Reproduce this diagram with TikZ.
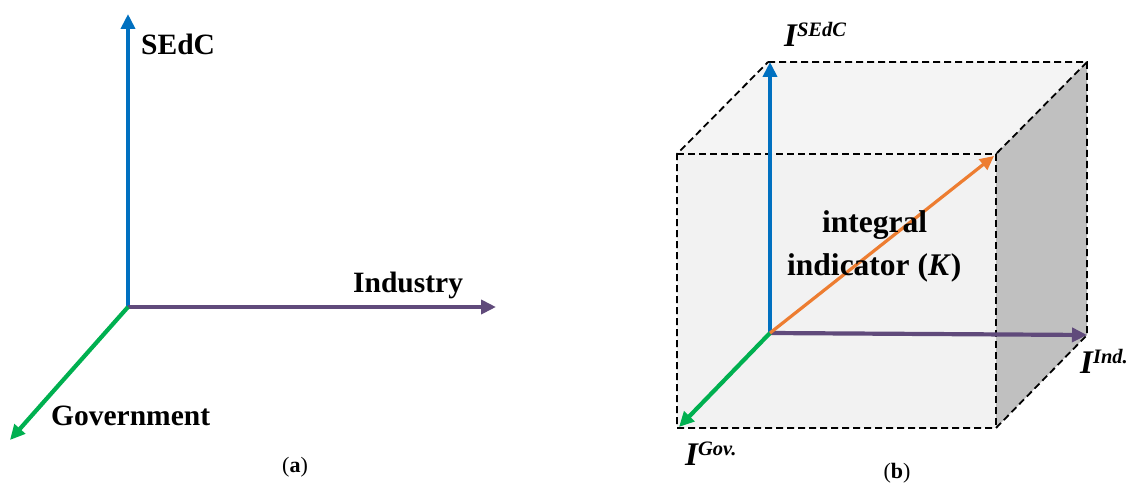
\documentclass[tikz,border=0pt]{standalone}
\usepackage{fontspec}
\setmainfont{Liberation Serif}
\usetikzlibrary{arrows.meta}
\definecolor{cblue}{HTML}{0070C0}
\definecolor{cpurple}{HTML}{604A7B}
\definecolor{cgreen}{HTML}{00B050}
\definecolor{corange}{HTML}{ED7D31}
\definecolor{cfront}{HTML}{F2F2F2}
\definecolor{ctop}{HTML}{F4F4F4}
\definecolor{cside}{HTML}{C0C0C0}
\tikzset{
  axis/.style={line width=4.2pt,-{Triangle[length=15pt,width=14pt]}},
  edge/.style={line width=1.8pt,dash pattern=on 7pt off 4pt},
  lab/.style={inner sep=0pt,anchor=base west,font=\fontsize{29.5}{34}\selectfont\bfseries},
  ilab/.style={inner sep=0pt,anchor=base west,font=\fontsize{33}{36}\selectfont\bfseries\itshape},
  captxt/.style={inner sep=0pt,font=\fontsize{22}{24}\selectfont}
}
\newcommand{\supr}[1]{\raisebox{10pt}{\fontsize{20.5}{22}\selectfont #1}}
\begin{document}
\begin{tikzpicture}[x=1pt,y=-1pt]
\useasboundingbox (0,0) rectangle (1132,484);
% ---------- (a) ----------
\coordinate (oa) at (128,307);
\coordinate (sa) at (128,14);
\coordinate (ia) at (496,307);
\coordinate (ga) at (10,440);
\draw[axis,cblue] (oa) -- (sa);
\draw[axis,cpurple] (oa) -- (ia);
\draw[axis,cgreen] (oa) -- (ga);
\node[lab] (lsedc) at (141,55) {SEdC};
\node[lab] (lind) at (353,292) {Industry};
\node[lab] (lgov) at (51,425) {Government};
\node[captxt] (capa) at (295,467) {(\textbf{a})};
% ---------- (b) ----------
\coordinate (btl) at (768,62);
\coordinate (btr) at (1087,62);
\coordinate (bbr) at (1087,335);
\coordinate (ftl) at (677,154);
\coordinate (ftr) at (996,154);
\coordinate (fbl) at (677,428);
\coordinate (fbr) at (996,428);
\coordinate (ob) at (770,333);
% faces
\fill[ctop] (btl) -- (btr) -- (ftr) -- (ftl) -- cycle;
\fill[cfront] (ftl) -- (ftr) -- (fbr) -- (fbl) -- cycle;
\fill[cside] (btr) -- (bbr) -- (fbr) -- (ftr) -- cycle;
% edges
\draw[edge] (btl) -- (btr) -- (bbr) -- (fbr) -- (fbl) -- (ftl) -- (btl);
\draw[edge] (ftl) -- (ftr) -- (fbr);
\draw[edge] (btr) -- (ftr);
% axes
\draw[axis,cblue] (ob) -- (770,62);
\draw[axis,cpurple] (ob) -- (bbr);
\draw[axis,cgreen] (ob) -- (679,427);
\draw[line width=3.2pt,corange,-{Triangle[length=14pt,width=13pt]}] (ob) -- (994,156);
\node[lab,font=\fontsize{31.5}{36}\selectfont\bfseries] (lint) at (822,232) {integral};
\node[lab,font=\fontsize{31.5}{36}\selectfont\bfseries] (lindic) at (787,275) {indicator (\textit{K})};
\node[ilab] (isedc) at (784,47) {I\supr{SEdC}};
\node[ilab] (iind) at (1080,373) {I\supr{Ind.}};
\node[ilab] (igov) at (685,465) {I\supr{Gov.}};
\node[captxt] (capb) at (897,473) {(\textbf{b})};
\end{tikzpicture}
\end{document}
